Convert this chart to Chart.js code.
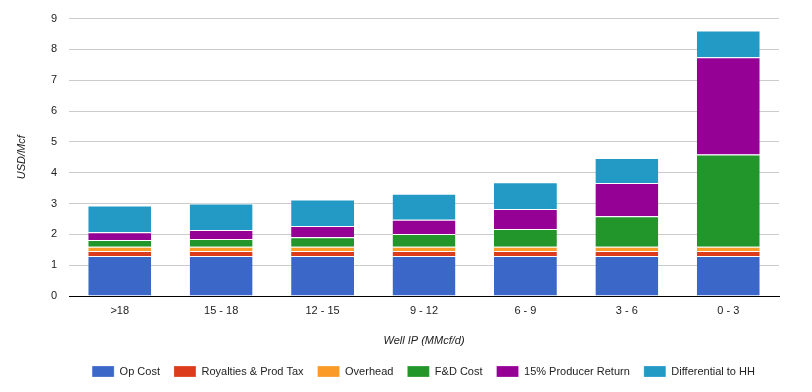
<!DOCTYPE html>
<html>
<head>
<meta charset="utf-8">
<title>Well IP cost stack</title>
<script src="https://cdn.jsdelivr.net/npm/chart.js@4/dist/chart.umd.min.js"></script>
<style>
    html, body { margin: 0; padding: 0; background: #fff; }
    #wrap { width: 812px; height: 392px; }
</style>
</head>
<body>
<div id="wrap"><canvas id="costChart" width="812" height="392"></canvas></div>
<script>
// Données du graphique (USD/Mcf)
const categories = ['>18', '15 - 18', '12 - 15', '9 - 12', '6 - 9', '3 - 6', '0 - 3'];
const opCost = [1.30, 1.30, 1.30, 1.30, 1.30, 1.30, 1.30];
const royalties = [0.16, 0.16, 0.16, 0.16, 0.16, 0.16, 0.16];
const overhead = [0.14, 0.14, 0.14, 0.14, 0.14, 0.14, 0.14];
const fdCost = [0.22, 0.25, 0.31, 0.41, 0.57, 0.99, 2.99];
const producerReturn = [0.25, 0.29, 0.36, 0.46, 0.65, 1.08, 3.16];
const differential = [0.87, 0.86, 0.86, 0.85, 0.87, 0.81, 0.86];
const yTicks = [0, 1, 2, 3, 4, 5, 6, 7, 8, 9];

const seriesNames = ['Op Cost', 'Royalties & Prod Tax', 'Overhead', 'F&D Cost', '15% Producer Return', 'Differential to HH'];
const seriesValues = [opCost, royalties, overhead, fdCost, producerReturn, differential];
const seriesColors = ['#3b67c9', '#dc3c1c', '#fc9a28', '#22962b', '#950095', '#2399c6'];

Chart.defaults.font.family = 'Arial, "Liberation Sans", sans-serif';
Chart.defaults.font.size = 11;
Chart.defaults.color = '#222';

// Décale la légende pour la centrer sous la zone du graphique
const legendShift = {
    id: 'legendShift',
    afterLayout(chart) {
        if (!chart.legend) return;
        chart.legend.left += 34;
        chart.legend.right += 34;
    }
};

function buildDatasets() {
    return seriesNames.map((name, i) => ({
        label: name,
        data: seriesValues[i],
        backgroundColor: seriesColors[i],
        borderColor: '#fff',
        borderWidth: { top: 1, right: 0, bottom: 0, left: 0 },
        borderSkipped: false,
        barPercentage: 0.62,
        categoryPercentage: 1
    }));
}

const ctx = document.getElementById('costChart').getContext('2d');

new Chart(ctx, {
    type: 'bar',
    data: {
        labels: categories,
        datasets: buildDatasets()
    },
    options: {
        responsive: false,
        animation: false,
        layout: {
            padding: { top: 17, right: 33, bottom: 5, left: 0 }
        },
        plugins: {
            legend: {
                position: 'bottom',
                labels: {
                    boxWidth: 22,
                    boxHeight: 11,
                    padding: 14,
                    color: '#222'
                }
            },
            tooltip: { enabled: false }
        },
        scales: {
            x: {
                stacked: true,
                grid: { display: false },
                border: { color: '#000', width: 1 },
                ticks: { padding: 0, color: '#222' },
                title: {
                    display: true,
                    text: 'Well IP (MMcf/d)',
                    font: { style: 'italic' },
                    color: '#222',
                    padding: { top: 0, bottom: 4 }
                },
                afterFit(scale) { scale.height = 56; }
            },
            y: {
                stacked: true,
                min: yTicks[0],
                max: yTicks[yTicks.length - 1],
                afterBuildTicks(scale) {
                    scale.ticks = yTicks.map(v => ({ value: v }));
                },
                grid: {
                    drawTicks: false,
                    color: (c) => c.tick && c.tick.value === 0 ? '#000' : '#ccc'
                },
                border: { display: false },
                ticks: { padding: 12, color: '#222' },
                title: {
                    display: true,
                    text: 'USD/Mcf',
                    font: { style: 'italic' },
                    color: '#222',
                    padding: { top: 15, bottom: 0 }
                },
                afterFit(scale) { scale.width = 69; }
            }
        }
    },
    plugins: [legendShift]
});
</script>
</body>
</html>
